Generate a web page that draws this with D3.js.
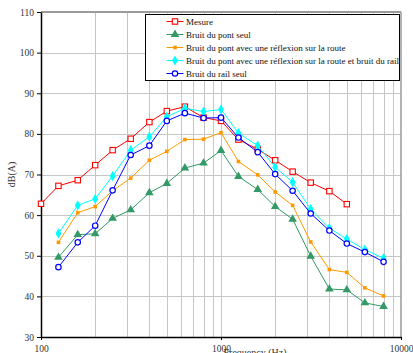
<!DOCTYPE html>
<html lang="fr">
<head>
<meta charset="utf-8" />
<title>Niveaux par tiers d'octave</title>
<script src="https://cdn.jsdelivr.net/npm/d3@7"></script>
<style>
    body { margin: 0; background: #fff; }
    svg text { font-family: "Liberation Serif", "DejaVu Serif", serif; }
    .axis path, .axis line { stroke: #000; }
    .axis text { font-size: 9.5px; fill: #333; }
</style>
</head>
<body>
<script>

    // tiers d'octave
    let freqs = [100, 125, 160, 200, 250, 315, 400, 500, 630, 800, 1000, 1250, 1600, 2000, 2500, 3150, 4000, 5000, 6300, 8000];

    // Mesure: 100 -> 5000 Hz
    let mesure = [62.8, 67.2, 68.6, 72.3, 76.0, 78.8, 82.9, 85.6, 86.7, 84.0, 83.2, 78.6, 76.2, 73.5, 70.7, 68.0, 65.9, 62.7];
    // les autres: 125 -> 8000 Hz
    let pontSeul = [49.6, 55.2, 55.4, 59.2, 61.3, 65.5, 67.8, 71.6, 72.8, 75.9, 69.5, 66.3, 62.1, 59.0, 49.9, 41.8, 41.6, 38.4, 37.5];
    let pontReflex = [53.3, 60.6, 62.1, 66.0, 69.1, 73.5, 75.7, 78.6, 78.7, 80.3, 73.2, 69.9, 65.7, 62.4, 53.4, 46.6, 45.9, 42.1, 40.1];
    let pontReflexRail = [55.5, 62.4, 64.0, 69.6, 76.0, 79.3, 84.2, 86.3, 85.5, 86.0, 80.2, 77.1, 71.8, 68.1, 61.5, 56.8, 54.1, 51.5, 49.4];
    let railSeul = [47.2, 53.3, 57.4, 66.1, 74.8, 77.1, 83.2, 85.1, 83.9, 84.0, 79.1, 75.5, 70.1, 66.0, 60.4, 56.2, 53.0, 50.9, 48.5];

    let yTicks = [30, 40, 50, 60, 70, 80, 90, 100, 110];
    let xTicks = [100, 1000, 10000];

    let series = [
        { name: 'Mesure', f: freqs.slice(0, 18), v: mesure, color: '#ff0000', marker: 'square' },
        { name: 'Bruit du pont seul', f: freqs.slice(1), v: pontSeul, color: '#339966', marker: 'triangle' },
        { name: 'Bruit du pont avec une réflexion sur la route', f: freqs.slice(1), v: pontReflex, color: '#ff9900', marker: 'smallsquare' },
        { name: 'Bruit du pont avec une réflexion sur la route et bruit du rail', f: freqs.slice(1), v: pontReflexRail, color: '#00ffff', marker: 'diamond' },
        { name: 'Bruit du rail seul', f: freqs.slice(1), v: railSeul, color: '#0000ff', marker: 'circle' }
    ];

    let W = 413, H = 353;
    let margin = { top: 12, left: 41, right: 12, bottom: 16 };
    let width = W - margin.left - margin.right,
        height = H - margin.top - margin.bottom;

    let x = d3.scaleLog().domain([100, 10000]).range([0, width]);
    let y = d3.scaleLinear().domain([30, 110]).range([height, 0]);

    let svg = d3.select('body').append('svg')
        .attr('width', W)
        .attr('height', H);

    let g = svg.append('g')
        .attr('transform', `translate(${margin.left},${margin.top})`);

    // grille verticale (mineurs)
    let minor = [];
    [100, 1000].forEach(dec => { for (let k = 2; k <= 9; k++) minor.push(dec * k); });
    g.selectAll('.vgrid')
        .data(minor.concat([1000]))
        .enter().append('line')
        .attr('x1', d => Math.round(x(d)) + 0.5)
        .attr('x2', d => Math.round(x(d)) + 0.5)
        .attr('y1', 0)
        .attr('y2', height)
        .style('stroke', '#c6c6c6')
        .style('stroke-width', '1px');

    // grille horizontale
    g.selectAll('.hgrid')
        .data(yTicks.slice(1, -1))
        .enter().append('line')
        .attr('x1', 0)
        .attr('x2', width)
        .attr('y1', d => Math.round(y(d)) + 0.5)
        .attr('y2', d => Math.round(y(d)) + 0.5)
        .style('stroke', '#c6c6c6');

    // cadre haut et droit
    g.append('line')
        .attr('x1', 0).attr('x2', width)
        .attr('y1', y(110)).attr('y2', y(110))
        .style('stroke', '#9a9a9a').style('stroke-width', '2px');
    g.append('line')
        .attr('x1', width).attr('x2', width)
        .attr('y1', 0).attr('y2', height)
        .style('stroke', '#9a9a9a').style('stroke-width', '1.5px');

    // axes
    let yAxis = d3.axisLeft(y).tickValues(yTicks).tickSize(4).tickSizeOuter(0);
    g.append('g').attr('class', 'axis').call(yAxis)
        .selectAll('path').style('stroke-width', '1.5px');

    let xAxis = d3.axisBottom(x).tickValues(xTicks).tickFormat(d3.format('d')).tickSize(3).tickSizeOuter(0).tickPadding(5);
    let gx = g.append('g').attr('class', 'axis')
        .attr('transform', `translate(0,${height})`)
        .call(xAxis);
    gx.selectAll('path').style('stroke-width', '1.5px');

    // titres d'axes
    svg.append('text')
        .attr('transform', `translate(15,${margin.top + y(70)}) rotate(-90)`)
        .attr('text-anchor', 'middle')
        .style('font-size', '10px')
        .style('fill', '#333')
        .text('dB(A)');

    svg.append('text')
        .attr('x', margin.left + x(1000) + 34)
        .attr('y', H + 3)
        .attr('text-anchor', 'middle')
        .style('font-size', '10px')
        .style('fill', '#333')
        .text('Frequency (Hz)');

    // marqueurs
    function drawMarker(sel, s) {
        if (s.marker === 'square') {
            sel.append('rect').attr('x', -2.7).attr('y', -2.7).attr('width', 5.4).attr('height', 5.4)
                .style('fill', '#fff').style('stroke', s.color).style('stroke-width', '1.1px');
        } else if (s.marker === 'triangle') {
            sel.append('path').attr('d', d3.symbol().type(d3.symbolTriangle).size(32))
                .style('fill', s.color);
        } else if (s.marker === 'smallsquare') {
            sel.append('rect').attr('x', -1.8).attr('y', -1.8).attr('width', 3.6).attr('height', 3.6)
                .style('fill', s.color);
        } else if (s.marker === 'diamond') {
            sel.append('path').attr('d', d3.symbol().type(d3.symbolDiamond).size(30))
                .style('fill', s.color);
        } else {
            sel.append('circle').attr('r', 2.7)
                .style('fill', '#fff').style('stroke', s.color).style('stroke-width', '1.2px');
        }
    }

    let line = d3.line().x(d => x(d[0])).y(d => y(d[1]));

    series.forEach(s => {
        let pts = s.f.map((f, i) => [f, s.v[i]]);
        g.append('path')
            .datum(pts)
            .attr('d', line)
            .style('fill', 'none')
            .style('stroke', s.color)
            .style('stroke-width', '1px');
        g.selectAll(null)
            .data(pts)
            .enter().append('g')
            .attr('transform', d => `translate(${x(d[0])},${y(d[1])})`)
            .each(function () { drawMarker(d3.select(this), s); });
    });

    // légende
    let lg = svg.append('g').attr('transform', 'translate(145.5,14.5)');
    lg.append('rect')
        .attr('width', 254)
        .attr('height', 66)
        .style('fill', '#fff')
        .style('stroke', '#000')
        .style('stroke-width', '1px');

    let item = lg.selectAll('.legend-item')
        .data(series)
        .enter().append('g')
        .attr('class', 'legend-item')
        .attr('transform', (d, i) => `translate(0,${7 + i * 13})`);

    item.append('line')
        .attr('x1', 21).attr('x2', 38)
        .attr('y1', 0).attr('y2', 0)
        .style('stroke', d => d.color);
    item.append('g')
        .attr('transform', 'translate(29.5,0)')
        .each(function (d) { drawMarker(d3.select(this), d); });
    item.append('text')
        .attr('x', 40.5)
        .attr('y', 3.2)
        .style('font-size', '9px')
        .style('fill', '#111')
        .text(d => d.name);

</script>
</body>
</html>
